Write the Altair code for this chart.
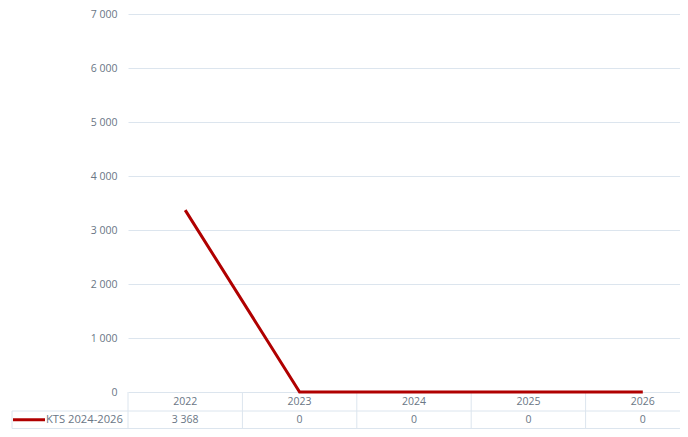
import altair as alt
import pandas as pd

years = ["2022", "2023", "2024", "2025", "2026"]
values = [3368, 0, 0, 0, 0]
series_name = "KTS 2024-2026"
y_ticks = [0, 1000, 2000, 3000, 4000, 5000, 6000, 7000]

df = pd.DataFrame({"year": years, "value": values})

PAD_L = 120
PAD_T = 6
W = 552          # visible plot width (svg clips the rest)
RANGE_W = 572    # full width of the five columns
H = 378
ROW1_TOP = H
ROW1_BOT = H + 19
ROW2_BOT = H + 36.5
PAD_B = 37
LEFT = -116

RED = "#b00000"
GRID = "#dce5ee"
TXT = "#6a7685"
FONT = "Open Sans"
FS = 10.5

xscale = alt.Scale(domain=years, range=[0, RANGE_W], paddingInner=0, paddingOuter=0)
xs = alt.X("year:N", scale=xscale, axis=None)

line = alt.Chart(df).mark_line(color=RED, strokeWidth=3, strokeCap="butt").encode(
    x=xs,
    y=alt.Y(
        "value:Q",
        scale=alt.Scale(domain=[0, 7000], nice=False),
        axis=alt.Axis(
            values=y_ticks,
            title=None,
            domain=False,
            ticks=False,
            grid=True,
            gridColor=GRID,
            gridWidth=1,
            labelPadding=11,
            labelColor=TXT,
            labelFont=FONT,
            labelFontSize=FS,
            labelExpr="replace(format(datum.value, ','), ',', ' ')",
        ),
    ),
)

vborders = alt.Chart(df).mark_rule(color=GRID, strokeWidth=1).encode(
    x=alt.X("year:N", scale=xscale, bandPosition=0, axis=None),
    y=alt.value(ROW1_TOP),
    y2=alt.value(ROW2_BOT),
)

left_border = alt.Chart(df.head(1)).mark_rule(color=GRID, strokeWidth=1).encode(
    x=alt.value(LEFT), y=alt.value(ROW1_BOT), y2=alt.value(ROW2_BOT)
)
hline1 = alt.Chart(df.head(1)).mark_rule(color=GRID, strokeWidth=1).encode(
    x=alt.value(LEFT), x2=alt.value(W), y=alt.value(ROW1_BOT)
)
hline2 = alt.Chart(df.head(1)).mark_rule(color=GRID, strokeWidth=1).encode(
    x=alt.value(LEFT), x2=alt.value(W), y=alt.value(ROW2_BOT)
)

year_text = alt.Chart(df).mark_text(color=TXT, font=FONT, fontSize=FS, baseline="middle").encode(
    x=xs, y=alt.value((ROW1_TOP + ROW1_BOT) / 2), text="year:N"
)
val_text = alt.Chart(df).transform_calculate(
    label="replace(format(datum.value, ','), ',', ' ')"
).mark_text(color=TXT, font=FONT, fontSize=FS, baseline="middle").encode(
    x=xs, y=alt.value((ROW1_BOT + ROW2_BOT) / 2), text="label:N"
)

legend_df = pd.DataFrame({"series": [series_name]})
legend_line = alt.Chart(legend_df).mark_rule(color=RED, strokeWidth=3).encode(
    x=alt.value(LEFT + 1), x2=alt.value(LEFT + 33), y=alt.value((ROW1_BOT + ROW2_BOT) / 2)
)
legend_text = alt.Chart(legend_df).mark_text(
    color=TXT, font=FONT, fontSize=11.2, align="left", baseline="middle"
).encode(
    x=alt.value(LEFT + 34), y=alt.value((ROW1_BOT + ROW2_BOT) / 2), text="series:N"
)

chart = alt.layer(
    vborders, left_border, hline1, hline2, line, year_text, val_text, legend_line, legend_text
).properties(
    width=W,
    height=H,
    background="white",
    autosize=alt.AutoSizeParams(type="none"),
    padding={"left": PAD_L, "top": PAD_T, "right": 0, "bottom": PAD_B},
).configure_view(stroke=None)

chart.save("out.html", embed_options={"renderer": "svg", "actions": False})
